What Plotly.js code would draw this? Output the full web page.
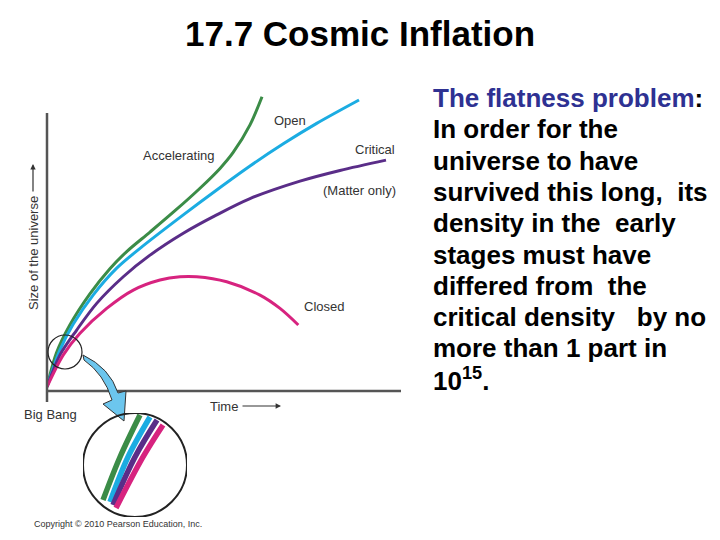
<!DOCTYPE html>
<html>
<head>
<meta charset="utf-8">
<script src="https://cdn.plot.ly/plotly-3.0.1.min.js"></script>
<style>html,body{margin:0;padding:0;background:#fff;}#chart{width:720px;height:540px;}</style>
</head>
<body>
<div id="chart"></div>
<script>
// ---- Data (time / size in arbitrary units) ----
const accelT = [0, 0.266, 0.643, 1.215, 1.782, 2.266, 2.918, 3.626, 4.334, 4.901, 5.269, 5.751, 6.091];
const accelS = [0.14, 1.28, 2.22, 3.28, 4.13, 4.72, 5.37, 6.09, 6.85, 7.52, 8.05, 8.99, 9.94];
const openT = [0, 0.368, 0.745, 1.312, 1.975, 2.635, 3.861, 4.807, 5.751, 6.694, 7.640, 8.839];
const openS = [0.14, 1.39, 2.26, 3.25, 4.15, 4.82, 5.95, 6.79, 7.60, 8.35, 9.04, 9.83];
const critT = [0, 0.368, 0.841, 1.408, 2.161, 2.918, 3.861, 4.807, 5.751, 7.167, 8.300, 9.603];
const critS = [0.14, 1.22, 2.06, 2.96, 3.86, 4.59, 5.33, 5.95, 6.50, 7.09, 7.45, 7.80];
const closedT = [0, 0.462, 0.935, 1.691, 2.445, 3.201, 3.768, 4.241, 5.091, 6.034, 6.601, 7.119];
const closedS = [0.14, 1.22, 1.95, 2.79, 3.41, 3.75, 3.86, 3.86, 3.69, 3.24, 2.79, 2.23];

// zoomed-in inset (local units, circle radius = 1)
const zAccelU = [-0.615, -0.288, 0.096];
const zAccelV = [-0.673, 0.154, 0.962];
const zOpenU = [-0.481, -0.135, 0.288];
const zOpenV = [-0.712, 0.154, 0.923];
const zCritU = [-0.423, 0.0, 0.423];
const zCritV = [-0.769, 0.154, 0.865];
const zClosedU = [-0.365, 0.154, 0.538];
const zClosedV = [-0.827, 0.154, 0.769];

const curveNames = ["Accelerating", "Open", "Critical", "Closed"];
const curveColors = ["#3B8C47", "#1BACE2", "#5A2D88", "#D7237F"];

const titleText = "17.7 Cosmic Inflation";
const bodyLines = [
  "<span style='color:#2E3192'>The flatness problem</span>:",
  "In order for the",
  "universe to have",
  "survived this long,\u00a0 its",
  "density in the\u00a0 early",
  "stages must have",
  "differed from\u00a0 the",
  "critical density\u00a0\u00a0 by no",
  "more than 1 part in",
  "10<sup>15</sup>."
];

// ---- helpers: pixel -> paper ----
const W = 720, H = 540;
const px = x => x / W;
const py = y => 1 - y / H;
const P = (x, y) => px(x).toFixed(5) + "," + py(y).toFixed(5);

const FONT = "Liberation Sans, Arial, sans-serif";

const mainT = [accelT, openT, critT, closedT];
const mainS = [accelS, openS, critS, closedS];
const insetU = [zAccelU, zOpenU, zCritU, zClosedU];
const insetV = [zAccelV, zOpenV, zCritV, zClosedV];

const traces = [];
for (let i = 0; i < 4; i++) {
  traces.push({x: mainT[i], y: mainS[i], type: "scatter", mode: "lines", name: curveNames[i],
    line: {color: curveColors[i], width: 3, shape: "spline", smoothing: 0.9}, xaxis: "x", yaxis: "y", hoverinfo: "skip"});
}
for (let i = 0; i < 4; i++) {
  traces.push({x: insetU[i], y: insetV[i], type: "scatter", mode: "lines", name: curveNames[i] + " (zoom)",
    line: {color: curveColors[i], width: 5.5, shape: "spline", smoothing: 1}, xaxis: "x2", yaxis: "y2", hoverinfo: "skip"});
}

const lblColor = "#333333";
const annotations = [
  {text: "<b>" + titleText + "</b>", x: px(360), y: py(33), xref: "paper", yref: "paper", showarrow: false,
   font: {family: FONT, size: 35, color: "#000"}, xanchor: "center", yanchor: "middle"},
  {text: "Accelerating", x: px(179), y: py(156)},
  {text: "Open", x: px(290), y: py(120)},
  {text: "Critical", x: px(375), y: py(149)},
  {text: "(Matter only)", x: px(359), y: py(191)},
  {text: "Closed", x: px(324), y: py(306)},
  {text: "Big Bang", x: px(50), y: py(414)},
  {text: "Copyright \u00a9 2010 Pearson Education, Inc.", x: px(118), y: py(524), size: 9},
  // labelled arrows (text at tail, arrow head at x/y)
  {text: "Time", x: px(281), y: py(406), ax: -57, ay: 0, showarrow: true, arrowhead: 2, arrowsize: 0.9,
   arrowwidth: 1.2, arrowcolor: lblColor, standoff: 0, startstandoff: 3},
  {text: "Size of the universe", textangle: -90, x: px(33), y: py(164), ax: 0, ay: 89, showarrow: true, arrowhead: 2,
   arrowsize: 0.9, arrowwidth: 1.2, arrowcolor: lblColor, standoff: 0, startstandoff: 3}
].map((a, i) => {
  if (i === 0) return a;
  return Object.assign({xref: "paper", yref: "paper", showarrow: false, xanchor: "center", yanchor: "middle",
    font: {family: FONT, size: a.size || 13, color: lblColor}}, a);
});

bodyLines.forEach((t, i) => {
  const base = 105 + 31.3 * i;
  annotations.push({text: "<b>" + t + "</b>", x: px(431), y: py(base - 7), xref: "paper", yref: "paper",
    showarrow: false, xanchor: "left", yanchor: "middle", align: "left",
    font: {family: FONT, size: 26, color: "#000"}});
});

const shapes = [
  // axes
  {type: "line", xref: "paper", yref: "paper", x0: px(47), x1: px(47), y0: py(402), y1: py(113), line: {color: "#555", width: 2.5}},
  {type: "line", xref: "paper", yref: "paper", x0: px(46), x1: px(401), y0: py(391), y1: py(391), line: {color: "#555", width: 2.5}},
  // small magnifier circle
  {type: "circle", xref: "paper", yref: "paper", x0: px(48), x1: px(82), y0: py(369), y1: py(335), line: {color: "#222", width: 1.2}},
  // big blue arrow
  {type: "path", xref: "paper", yref: "paper",
   path: "M " + P(83, 355) + " Q " + P(110, 368) + " " + P(118, 393) + " L " + P(126, 391) + " L " + P(124, 421) +
         " L " + P(103, 404) + " L " + P(112, 400) + " Q " + P(104, 374) + " " + P(84, 360) + " Z",
   fillcolor: "#6CC6EE", line: {color: "#333", width: 1}},
  // inset circle
  {type: "circle", xref: "x2", yref: "y2", x0: -1, x1: 1, y0: -1, y1: 1, line: {color: "#222", width: 2}}
];

const layout = {
  width: W, height: H,
  margin: {l: 0, r: 0, t: 0, b: 0},
  paper_bgcolor: "#fff", plot_bgcolor: "rgba(0,0,0,0)",
  showlegend: false,
  xaxis: {domain: [px(47), px(400)], range: [0, 10], visible: false, fixedrange: true},
  yaxis: {domain: [py(391), py(95)], range: [0, 10], visible: false, fixedrange: true},
  xaxis2: {domain: [px(83), px(187)], range: [-1, 1], visible: false, anchor: "y2"},
  yaxis2: {domain: [py(517), py(413)], range: [-1, 1], visible: false, anchor: "x2"},
  annotations: annotations,
  shapes: shapes,
  font: {family: FONT}
};

Plotly.newPlot("chart", traces, layout, {displayModeBar: false, staticPlot: true});
</script>
</body>
</html>
